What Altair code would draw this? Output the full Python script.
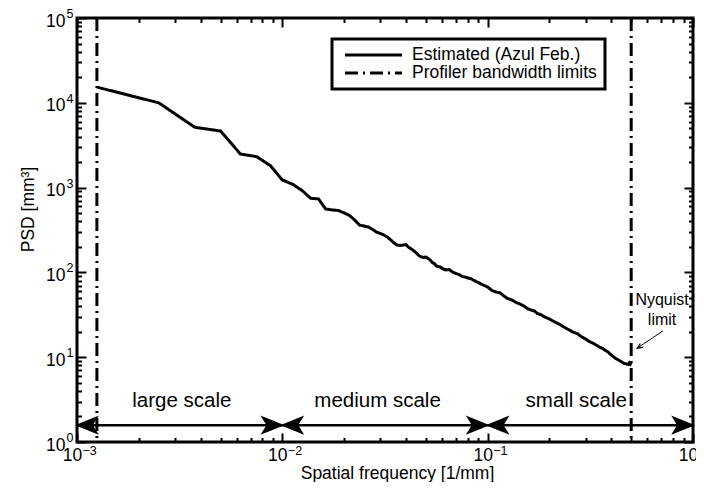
import altair as alt
import pandas as pd

# ---------------- data ----------------
freq = [0.00125, 0.0025, 0.00375, 0.005, 0.00625, 0.0075, 0.00875, 0.01,
        0.01125, 0.0125, 0.01375, 0.015, 0.01625, 0.0175, 0.01875, 0.02,
        0.02125, 0.0225, 0.02375, 0.025, 0.02625, 0.0275, 0.02875, 0.03,
        0.03125, 0.0325, 0.03375, 0.035, 0.03625, 0.0375, 0.03875, 0.04,
        0.04125, 0.0425, 0.04375, 0.045, 0.04625, 0.0475, 0.04875, 0.05,
        0.05125, 0.0525, 0.05375, 0.055, 0.05625, 0.0575, 0.05875, 0.06,
        0.0625, 0.065, 0.0675, 0.07, 0.0725, 0.075, 0.0775, 0.08, 0.0825, 0.085,
        0.09, 0.095,
        0.1, 0.105, 0.11, 0.115, 0.12, 0.125,
        0.13125, 0.1375, 0.14375, 0.15, 0.15625, 0.1625, 0.16875, 0.175, 0.18125, 0.1875,
        0.2, 0.2125, 0.225, 0.2375, 0.25, 0.2625, 0.275, 0.2875, 0.3, 0.3125,
        0.325, 0.3375, 0.35, 0.3625, 0.375, 0.3875, 0.4, 0.4125, 0.425, 0.4375,
        0.45, 0.4625, 0.475,
        0.485, 0.49, 0.495, 0.5]
psd = [15300, 10000, 5140, 4650, 2490, 2316, 1814, 1230,
       1093, 920, 748, 735, 560, 545, 537, 502,
       469, 415, 362, 352, 343, 321, 299, 288,
       276, 261, 241, 222, 210, 208, 210, 213,
       197, 189, 179, 169, 158, 152, 150, 152,
       146, 140, 131, 127, 119, 117, 116, 111,
       107, 108, 101, 97, 94.5, 89.5, 88.3, 85.9, 84.7, 81.3,
       76, 71,
       67.2, 61.1, 58.7, 57.2, 52.7, 49.2,
       47.3, 44.2, 42.4, 40.2, 37.5, 36, 35.1, 32.7, 31.8, 30.2,
       28.2, 26, 24.3, 22.4, 20.9, 19.6, 18.8, 17.3, 16.4, 15.3,
       14.7, 13.9, 13.2, 12.7, 12.0, 11.4, 10.6, 10.0, 9.5, 9.15,
       8.77, 8.43, 8.32,
       8.2, 8.55, 8.3, 8.65]
assert len(freq) == len(psd)

series_names = ["Estimated (Azul Feb.)", "Profiler bandwidth limits"]
limit_freq = [0.00125, 0.5]

region_labels = ["large scale", "medium scale", "small scale"]
region_label_x = [0.00324, 0.0291, 0.27]
region_label_y = [3.04, 3.04, 3.04]
region_start = [0.001, 0.01, 0.1]
region_end = [0.01, 0.1, 1.0]
region_arrow_y = 1.58

nyq_text = ["Nyquist", "limit"]
nyq_text_x = [0.707, 0.707]
nyq_text_y = [47.3, 27.5]
nyq_tail = (0.714, 20.4)
nyq_tip = (0.535, 12.8)

x_label_values = [0.001, 0.01, 0.1, 1.0]
x_exponents = ["\u22123", "\u22122", "\u22121", "0"]
y_label_values = [1, 10, 100, 1000, 10000, 100000]
y_exponents = ["0", "1", "2", "3", "4", "5"]
x_tick_values = [m * 10.0 ** e for e in (-3, -2, -1) for m in range(1, 10)] + [1.0]
y_tick_values = [m * 10.0 ** e for e in (0, 1, 2, 3, 4) for m in range(1, 10)] + [1e5]

# ---------------- tables ----------------
curve_df = pd.DataFrame({"f": freq, "P": psd, "series": series_names[0]})
limit_df = pd.DataFrame({"f": limit_freq, "series": series_names[1]})
region_df = pd.DataFrame({"label": region_labels, "x": region_label_x, "y": region_label_y})
seg_df = pd.DataFrame({"x": region_start, "x2": region_end, "y": region_arrow_y})
head_df = pd.DataFrame({
    "x": region_start + region_end,
    "y": [region_arrow_y] * 6,
    "dir": ["L"] * 3 + ["R"] * 3,
})
nyq_df = pd.DataFrame({"t": nyq_text, "x": nyq_text_x, "y": nyq_text_y})
nyq_arrow_df = pd.DataFrame({"x": [nyq_tail[0]], "y": [nyq_tail[1]],
                             "x2": [nyq_tip[0]], "y2": [nyq_tip[1]]})

W, H = 616, 424
FONT = "Liberation Sans"
FS = 17.5
EXP_FS = 12.5

xs = alt.Scale(type="log", domain=[0.001, 1.0], nice=False)
ys = alt.Scale(type="log", domain=[1, 100000], nice=False)

is_major = "abs(log(datum.value)/LN10 - round(log(datum.value)/LN10)) < 0.001"
tick_size = {"condition": {"test": is_major, "value": 9}, "value": 4.5}

x_exp_expr = "[" + ",".join("'%s'" % e for e in x_exponents) + "][round(log(datum.value)/LN10)+3]"
y_exp_expr = "[" + ",".join("'%s'" % e for e in y_exponents) + "][round(log(datum.value)/LN10)]"

common_lbl = dict(ticks=False, domain=False, grid=False, labelFont=FONT, labelColor="black",
                  labelFlush=False, labelOverlap=False, labelBound=False)

axis_x_base = alt.Axis(orient="bottom", values=x_label_values, labelExpr="'10'",
                       labelFontSize=FS, labelAlign="center", labelOffset=-5,
                       labelBaseline="middle", labelPadding=13,
                       title="Spatial frequency [1/mm]", titleFont=FONT, titleFontSize=FS,
                       titleFontWeight="normal", titleColor="black",
                       titleX=320, titleY=36.5, titleBaseline="alphabetic", **common_lbl)
axis_x_exp = alt.Axis(orient="bottom", values=x_label_values, labelExpr=x_exp_expr,
                      labelFontSize=EXP_FS, labelAlign="left", labelOffset=5,
                      labelBaseline="middle", labelPadding=8, title=None, **common_lbl)
axis_y_base = alt.Axis(orient="left", values=y_label_values, labelExpr="'10'",
                       labelFontSize=FS, labelAlign="right", labelPadding=12,
                       labelBaseline="middle", labelOffset=3,
                       title="PSD [mm\u00b3]", titleFont=FONT, titleFontSize=FS,
                       titleFontWeight="normal", titleColor="black",
                       titleAngle=270, titleX=-49, titleY=191, titleBaseline="middle",
                       titleAlign="center", **common_lbl)
axis_y_exp = alt.Axis(orient="left", values=y_label_values, labelExpr=y_exp_expr,
                      labelFontSize=EXP_FS, labelAlign="left", labelPadding=11,
                      labelBaseline="middle", labelOffset=-4.5, title=None, **common_lbl)


def tick_axis(orient, offset):
    vals = x_tick_values if orient in ("top", "bottom") else y_tick_values
    return alt.Axis(orient=orient, offset=offset, values=vals,
                    labels=False, domain=False, grid=False, title=None,
                    tickSize=tick_size, tickWidth=2, tickColor="black")


dash_scale = alt.Scale(domain=series_names, range=[[1, 0], [13, 5, 2, 5]])

curve = alt.Chart(curve_df).mark_line(color="black", strokeWidth=3).encode(
    x=alt.X("f:Q", scale=xs, axis=axis_x_base),
    y=alt.Y("P:Q", scale=ys, axis=axis_y_base),
    strokeDash=alt.StrokeDash("series:N", scale=dash_scale,
                              legend=alt.Legend(title=None, orient="none", legendX=255, legendY=21,
                                                labelFont=FONT, labelFontSize=FS, labelColor="black",
                                                labelLimit=400, labelOffset=8.5,
                                                labelExpr="datum.label + '\u2003'",
                                                symbolType="stroke", symbolSize=3249,
                                                symbolOffset=4,
                                                symbolStrokeWidth=3, symbolStrokeColor="black",
                                                clipHeight=17, padding=7.5, rowPadding=0,
                                                fillColor="white", strokeColor="black")),
)

limits = alt.Chart(limit_df).mark_rule(color="black", strokeWidth=3).encode(
    x=alt.X("f:Q", scale=xs, axis=tick_axis("top", -H)),
    strokeDash=alt.StrokeDash("series:N", scale=dash_scale),
)

segs = alt.Chart(seg_df).mark_rule(color="black", strokeWidth=2.5).encode(
    x=alt.X("x:Q", scale=xs, axis=tick_axis("bottom", -H)),
    x2="x2:Q",
    y=alt.Y("y:Q", scale=ys, axis=tick_axis("right", -W)),
)

head_r = "M0,0 L-2,-0.8 L-1.5,0 L-2,0.8 Z"
head_l = "M0,0 L2,-0.8 L1.5,0 L2,0.8 Z"
heads = alt.Chart(head_df).mark_point(filled=True, color="black", size=400, opacity=1,
                                      stroke="black", strokeWidth=1.5).encode(
    x=alt.X("x:Q", scale=xs, axis=None),
    y=alt.Y("y:Q", scale=ys, axis=tick_axis("left", -W)),
    shape=alt.Shape("dir:N", scale=alt.Scale(domain=["L", "R"], range=[head_l, head_r]), legend=None),
)

region_text = alt.Chart(region_df).mark_text(font=FONT, fontSize=20.5, color="black",
                                             align="center", baseline="middle").encode(
    x=alt.X("x:Q", scale=xs, axis=axis_x_exp),
    y=alt.Y("y:Q", scale=ys, axis=axis_y_exp),
    text="label:N",
)

nyq_text_layer = alt.Chart(nyq_df).mark_text(font=FONT, fontSize=16, color="black",
                                             align="center", baseline="middle").encode(
    x=alt.X("x:Q", scale=xs, axis=None),
    y=alt.Y("y:Q", scale=ys, axis=None),
    text="t:N",
)

nyq_line = alt.Chart(nyq_arrow_df).mark_rule(color="black", strokeWidth=1).encode(
    x=alt.X("x:Q", scale=xs, axis=None), x2="x2:Q",
    y=alt.Y("y:Q", scale=ys, axis=None), y2="y2:Q",
)

nyq_head = alt.Chart(nyq_arrow_df).mark_point(shape="M-1.7,-0.75 L0,0 L-1.7,0.75", filled=False,
                                              color="black", strokeWidth=1.2, size=36, opacity=1,
                                              angle=148).encode(
    x=alt.X("x2:Q", scale=xs, axis=None),
    y=alt.Y("y2:Q", scale=ys, axis=None),
)

chart = alt.layer(curve, limits, segs, heads, region_text, nyq_text_layer, nyq_line, nyq_head).resolve_axis(
    x="independent", y="independent"
).properties(
    width=W, height=H,
    autosize=alt.AutoSizeParams(type="none"),
    padding={"left": 69, "top": 10, "right": 3, "bottom": 40},
    background="white",
).configure_view(
    stroke="black", strokeWidth=3
).configure_legend(
    strokeWidth=3
)

chart.save("out.html", embed_options={"renderer": "svg", "actions": False})
